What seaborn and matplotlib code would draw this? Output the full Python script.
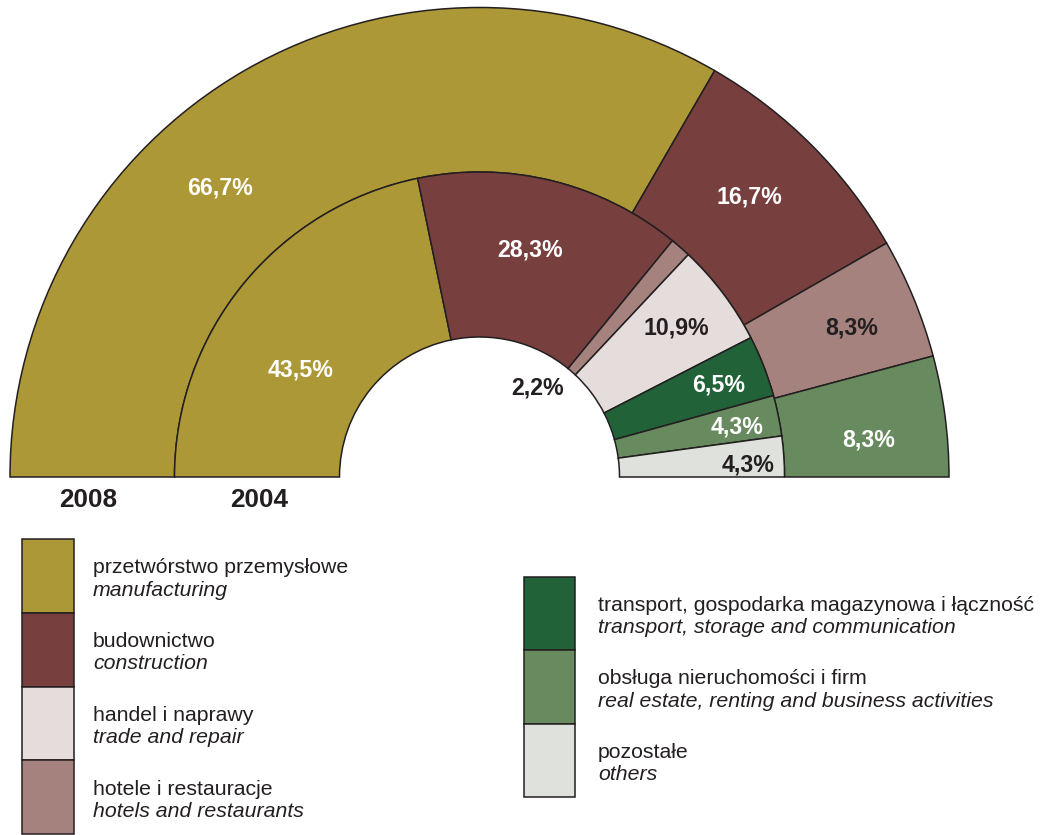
import numpy as np
import matplotlib
matplotlib.use("Agg")
import matplotlib.pyplot as plt
from matplotlib.patches import Rectangle
import seaborn as sns

# ---------------- data ----------------
categories_pl = ["przetwórstwo przemysłowe", "budownictwo", "handel i naprawy",
                 "hotele i restauracje", "transport, gospodarka magazynowa i łączność",
                 "obsługa nieruchomości i firm", "pozostałe"]
categories_en = ["manufacturing", "construction", "trade and repair",
                 "hotels and restaurants", "transport, storage and communication",
                 "real estate, renting and business activities", "others"]
# order of wedges around the half ring (left -> right)
ring_order = [0, 1, 3, 2, 4, 5, 6]
values_2008 = [66.7, 16.7, 0.0, 8.3, 0.0, 8.3, 0.0]
values_2004 = [43.5, 28.3, 10.9, 2.2, 6.5, 4.3, 4.3]
year_labels = ["2008", "2004"]

colors = ["#AD9837", "#773F3E", "#E5DDDC", "#A5827E", "#216239", "#678A5F", "#DFE1DC"]
label_dark = [False, False, True, True, False, False, True]

# ---------------- layout ----------------
W, H = 1043, 835
CX, CY = 479.5, H - 477
R_OUT, R_MID, R_IN = 469.5, 305.0, 140.0
EDGE = "#231F20"
# label polar positions (angle deg, radius px) per ring
lab_pos_2008 = {0: (131.9, 388), 1: (46.0, 389), 3: (21.8, 401), 5: (5.4, 391)}
lab_pos_2004 = {0: (149.1, 208), 1: (77.5, 232), 3: (57.1, 106), 2: (37.0, 247),
                4: (21.0, 256), 5: (11.0, 262), 6: (2.6, 269)}
year_x = [88.5, 259]
year_y = 500

sns.set_theme(style="white")
sns.set_palette(sns.color_palette(colors))
plt.rcParams["font.family"] = ["Liberation Sans", "DejaVu Sans"]

fig = plt.figure(figsize=(W / 100, H / 100), dpi=100)
ax = fig.add_axes([0, 0, 1, 1])


def ring(values, radius, width, label_pos, inner=False):
    idx = [i for i in ring_order if values[i] > 0]
    vals = [values[i] / 200.0 for i in idx]
    ax.pie(vals, colors=[colors[i] for i in idx], startangle=180, counterclock=False,
           normalize=False, radius=radius, center=(CX, CY),
           wedgeprops=dict(width=width, edgecolor=EDGE, linewidth=1.1))
    for i in idx:
        ang, r = label_pos[i]
        a = np.deg2rad(ang)
        txt = f"{values[i]:.1f}%".replace(".", ",")
        dark = label_dark[i] or (inner and i == 3)
        ax.text(CX + r * np.cos(a), CY + r * np.sin(a), txt, ha="center", va="center",
                fontsize=16.7, fontweight="bold", color=EDGE if dark else "white")


ring(values_2008, R_OUT, R_OUT - R_MID, lab_pos_2008)
ring(values_2004, R_MID, R_MID - R_IN, lab_pos_2004, inner=True)

# year labels under rings
for x, lab in zip(year_x, year_labels):
    ax.text(x, H - year_y, lab, ha="center", va="center",
            fontsize=18.8, fontweight="bold", color=EDGE)

# legend
def legend_column(items, x0, x1, top, h, tx):
    for k, i in enumerate(items):
        t = top + k * h
        ax.add_patch(Rectangle((x0, H - (t + h)), x1 - x0, h, facecolor=colors[i],
                               edgecolor=EDGE, linewidth=1.1))
        cy = t + h / 2 + 3
        ax.text(tx, H - (cy - 11.2), categories_pl[i], ha="left", va="center",
                fontsize=15.3, color=EDGE)
        ax.text(tx, H - (cy + 11.2), categories_en[i], ha="left", va="center",
                fontsize=15.3, color=EDGE, style="italic")

legend_column([0, 1, 2, 3], 22, 74, 539, 73.8, 93)
legend_column([4, 5, 6], 524, 575, 577, 73.3, 598)

ax.set_xlim(0, W)
ax.set_ylim(0, H)
ax.set_aspect("equal")
ax.axis("off")
fig.savefig("out.png", dpi=100)
